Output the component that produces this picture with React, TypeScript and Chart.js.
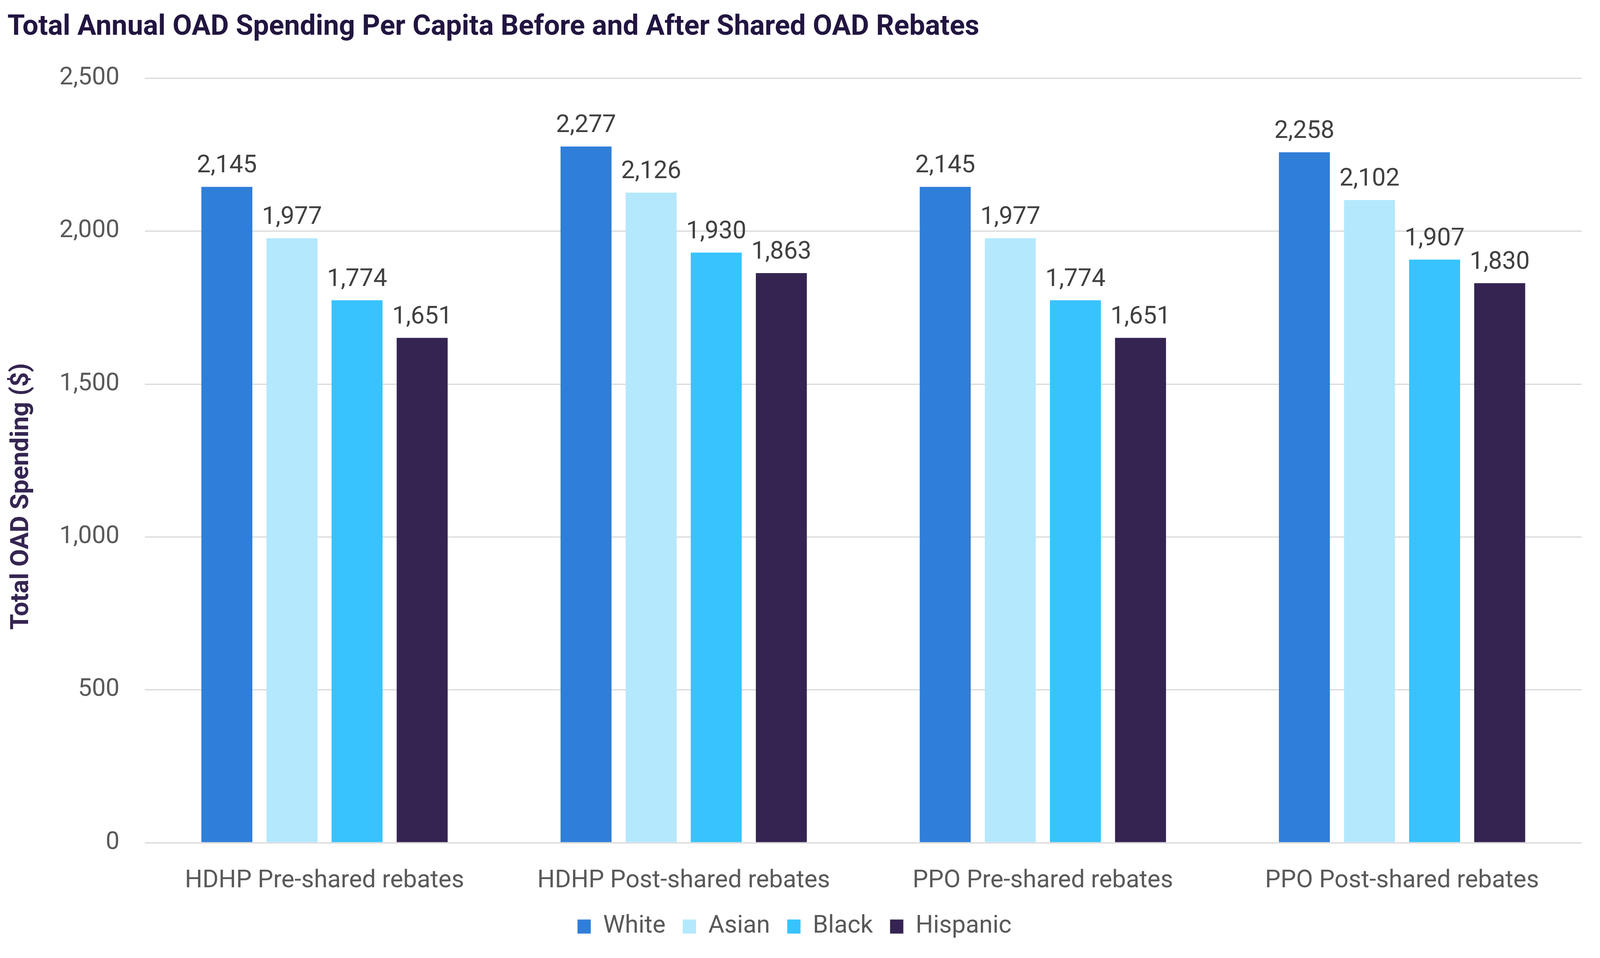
import { useEffect, useRef } from "react";
import { Chart, registerables, Plugin } from "chart.js";

Chart.register(...registerables);

const CATEGORIES = [
  "HDHP Pre-shared rebates",
  "HDHP Post-shared rebates",
  "PPO Pre-shared rebates",
  "PPO Post-shared rebates",
];

const SERIES_NAMES = ["White", "Asian", "Black", "Hispanic"];
const WHITE = [2145, 2277, 2145, 2258];
const ASIAN = [1977, 2126, 1977, 2102];
const BLACK = [1774, 1930, 1774, 1907];
const HISPANIC = [1651, 1863, 1651, 1830];

const SERIES_COLORS = ["#2f7ed8", "#b4e8fc", "#38c3ff", "#352452"];

const Y_TICKS = [0, 500, 1000, 1500, 2000, 2500];

const TITLE = "Total Annual OAD Spending Per Capita Before and After Shared OAD Rebates";
const Y_TITLE = "Total OAD Spending ($)";

const FONT = "Roboto, 'Noto Sans', sans-serif";

// value labels above each bar
const barLabels: Plugin<"bar"> = {
  id: "barLabels",
  afterDatasetsDraw(chart) {
    const { ctx } = chart;
    ctx.save();
    ctx.font = `63px ${FONT}`;
    ctx.fillStyle = "#404040";
    ctx.textAlign = "center";
    ctx.textBaseline = "alphabetic";
    chart.data.datasets.forEach((ds, i) => {
      const meta = chart.getDatasetMeta(i);
      meta.data.forEach((bar, j) => {
        const v = ds.data[j] as number;
        ctx.fillText(v.toLocaleString("en-US"), bar.x, bar.y - 37);
      });
    });
    ctx.restore();
  },
};

// y axis title, sits a bit lower than the middle of the plot, as in the original
const yTitle: Plugin<"bar"> = {
  id: "yTitle",
  afterDraw(chart) {
    const { ctx, chartArea } = chart;
    ctx.save();
    ctx.translate(56, (chartArea.top + chartArea.bottom) / 2 + 92);
    ctx.rotate(-Math.PI / 2);
    ctx.font = `bold 65px ${FONT}`;
    ctx.fillStyle = "#352551";
    ctx.textAlign = "center";
    ctx.textBaseline = "middle";
    ctx.fillText(Y_TITLE, 0, 0);
    ctx.restore();
  },
};

export default function App() {
  const canvasRef = useRef<HTMLCanvasElement>(null);

  useEffect(() => {
    document.body.style.margin = "0";
    if (!canvasRef.current) return;

    const values = [WHITE, ASIAN, BLACK, HISPANIC];

    const chart = new Chart(canvasRef.current, {
      type: "bar",
      data: {
        labels: CATEGORIES,
        datasets: SERIES_NAMES.map((name, i) => ({
          label: name,
          data: values[i],
          backgroundColor: SERIES_COLORS[i],
          borderWidth: 0,
          categoryPercentage: 0.725,
          barPercentage: 0.783,
        })),
      },
      options: {
        responsive: true,
        maintainAspectRatio: false,
        animation: false,
        devicePixelRatio: 1,
        font: { family: FONT },
        layout: { padding: { left: 19, right: 47, top: 0, bottom: 39 } },
        plugins: {
          title: {
            display: true,
            text: TITLE,
            align: "start",
            color: "#221540",
            font: { family: FONT, size: 72, weight: "bold" },
            padding: { top: 28, bottom: 86 },
          },
          legend: {
            position: "bottom",
            labels: {
              color: "#595959",
              font: { family: FONT, size: 63 },
              boxWidth: 34,
              boxHeight: 36,
              padding: 44,
            },
          },
          tooltip: { enabled: false },
        },
        scales: {
          x: {
            afterFit: (s) => {
              s.height = 139;
            },
            grid: { display: false, drawTicks: false },
            border: { display: false },
            ticks: {
              color: "#595959",
              font: { family: FONT, size: 63 },
              padding: 60,
              maxRotation: 0,
            },
          },
          y: {
            min: 0,
            max: 2500,
            afterFit: (s) => {
              s.width = 352;
            },
            afterBuildTicks: (s) => {
              s.ticks = Y_TICKS.map((v) => ({ value: v }));
            },
            grid: { color: "#d9d9d9", lineWidth: 3, drawTicks: false },
            border: { display: false },
            ticks: {
              color: "#595959",
              font: { family: FONT, size: 63 },
              padding: 65,
              callback: (v) => Number(v).toLocaleString("en-US"),
            },
          },
        },
      },
      plugins: [barLabels, yTitle],
    });

    return () => chart.destroy();
  }, []);

  return (
    <div style={{ width: "100%", height: 2452, position: "relative" }}>
      <canvas ref={canvasRef} />
    </div>
  );
}
